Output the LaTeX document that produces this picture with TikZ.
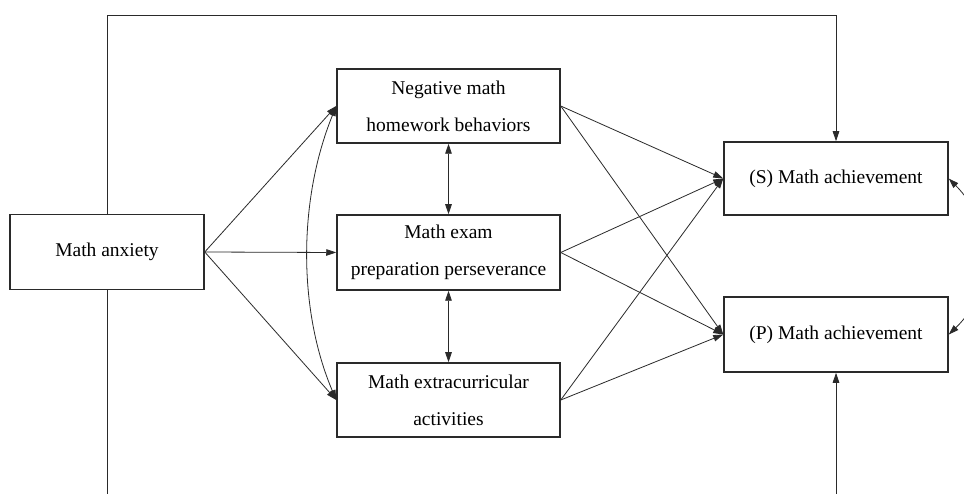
\documentclass[tikz,border=0pt]{standalone}
\usepackage{fontspec}
\setmainfont{Liberation Serif}
\usetikzlibrary{arrows.meta,backgrounds}
\definecolor{ink}{HTML}{2A2A2A}
\begin{document}
\begin{tikzpicture}[x=1pt,y=-1pt,
  box/.style={draw=ink,line width=1.5pt,fill=white,inner sep=0pt,align=center,
    font=\fontsize{19.5}{37}\selectfont},
  conn/.style={draw=ink,line width=0.8pt,-{Triangle[length=10pt,width=6.5pt]}},
  dconn/.style={draw=ink,line width=0.8pt,{Triangle[length=10pt,width=6.5pt]}-{Triangle[length=10pt,width=6.5pt]}}]
\clip (0,0) rectangle (964,494);
\coordinate (topy) at (0,15);
\coordinate (boty) at (0,520);
\node[box,minimum width=194pt,minimum height=75pt] (ma) at (107,252) {Math anxiety};
\node[box,minimum width=223pt,minimum height=74pt] (neg) at (448.5,106) {Negative math\\homework behaviors};
\node[box,minimum width=223pt,minimum height=75pt] (exam) at (448.5,252.5) {Math exam\\preparation perseverance};
\node[box,minimum width=223pt,minimum height=74pt] (extra) at (448.5,400) {Math extracurricular\\activities};
\node[box,minimum width=224pt,minimum height=73pt] (S) at (836,178.5) {(S) Math achievement};
\node[box,minimum width=224pt,minimum height=75pt] (P) at (836,334.5) {(P) Math achievement};
\begin{scope}[on background layer]
\fill[white] (0,0) rectangle (964,494);
\draw[conn] (ma.center) -- (ma.center |- topy) -| (S.north);
\draw[conn] (ma.center) -- (ma.center |- boty) -| (P.south);
\end{scope}
% paths from math anxiety
\draw[conn] (ma.east) -- (neg.west);
\draw[conn] (ma.east) -- (exam.west);
\draw[conn] (ma.east) -- (extra.west);
\draw[dconn] (neg.west) .. controls (298,200) and (298,310) .. (extra.west);
\draw[dconn] (neg.south) -- (exam.north);
\draw[dconn] (exam.south) -- (extra.north);
% mediators to outcomes
\foreach \m in {neg,exam,extra}{
  \draw[conn] (\m.east) -- (S.west);
  \draw[conn] (\m.east) -- (P.west);
}
% residual covariance
\draw[dconn] (S.east) .. controls (995,225) and (995,290) .. (P.east);
\end{tikzpicture}
\end{document}
